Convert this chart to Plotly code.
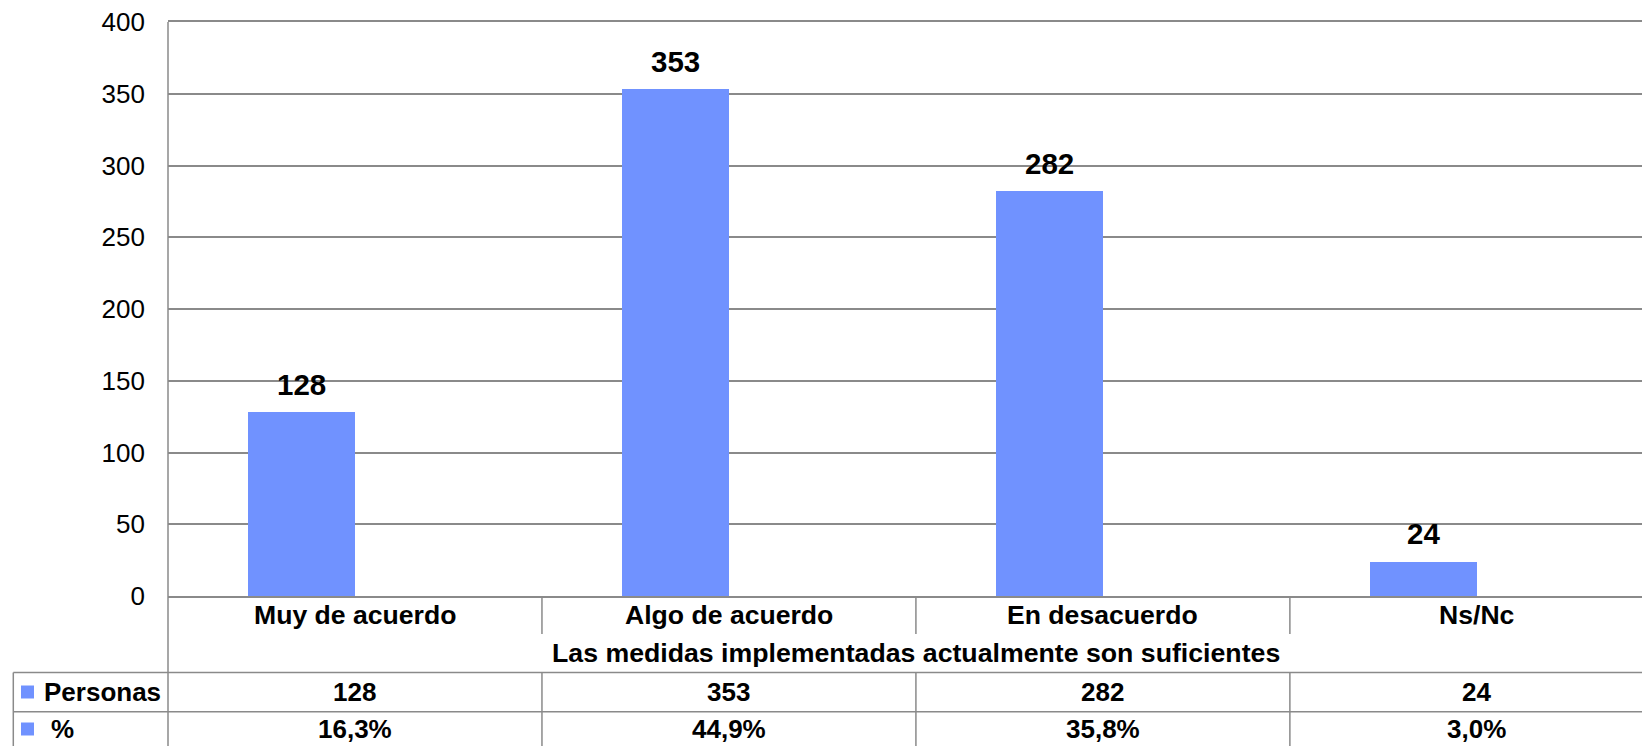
import plotly.graph_objects as go

categorias = ["Muy de acuerdo", "Algo de acuerdo", "En desacuerdo", "Ns/Nc"]
personas = [128, 353, 282, 24]
porcentajes = ["16,3%", "44,9%", "35,8%", "3,0%"]
titulo_tabla = "Las medidas implementadas actualmente son suficientes"
filas = ["Personas", "%"]
y_ticks = [0, 50, 100, 150, 200, 250, 300, 350, 400]

AZUL = "#7092FF"
GRIS = "#8a8a8a"
FUENTE = "Liberation Sans, Arial, sans-serif"
ANCHO_BARRA = 0.287

# the page body adds an 8px margin, so the figure is 8px smaller and
# everything below is measured in page pixels: plot area x 168..1650, y 22..596
def px_x(px):
    return (px - 168) / 1482


def px_y(py):
    return (596 - py) / 574


fig = go.Figure()

fig.add_trace(
    go.Bar(
        x=categorias,
        y=personas,
        width=ANCHO_BARRA,
        offset=-ANCHO_BARRA,
        marker_color=AZUL,
        marker_line_width=0,
        showlegend=False,
    )
)

anotaciones = []

# data labels above bars
for i, v in enumerate(personas):
    anotaciones.append(dict(
        x=i - ANCHO_BARRA / 2, y=v, xref="x", yref="y",
        text=f"<b>{v}</b>", showarrow=False,
        yanchor="middle", yshift=28,
        font=dict(size=29.5, color="black", family=FUENTE),
    ))

# category row
for c in categorias:
    anotaciones.append(dict(
        x=c, y=px_y(614.7), xref="x", yref="paper",
        text=f"<b>{c}</b>", showarrow=False, yanchor="middle",
        font=dict(size=26.6, color="black", family=FUENTE),
    ))

anotaciones.append(dict(
    x=1.5, y=px_y(652.8), xref="x", yref="paper",
    text=f"<b>{titulo_tabla}</b>", showarrow=False, yanchor="middle",
    font=dict(size=26.7, color="black", family=FUENTE),
))

# data table rows
centros_filas = [692, 729]
valores_filas = [[str(v) for v in personas], porcentajes]
inicio_etiqueta = [41.7, 49]
for r, nombre in enumerate(filas):
    anotaciones.append(dict(
        x=px_x(inicio_etiqueta[r]), y=px_y(centros_filas[r]), xref="paper", yref="paper",
        text=f"<b>{nombre}</b>", showarrow=False, xanchor="left", yanchor="middle",
        font=dict(size=26, color="black", family=FUENTE),
    ))
    for i, val in enumerate(valores_filas[r]):
        anotaciones.append(dict(
            x=i, y=px_y(centros_filas[r]), xref="x", yref="paper",
            text=f"<b>{val}</b>", showarrow=False, yanchor="middle",
            font=dict(size=26, color="black", family=FUENTE),
        ))

linea = dict(color=GRIS, width=1.5)
formas = []

# left border of the chart, down through the table
formas.append(dict(type="line", xref="paper", yref="paper",
                   x0=0, x1=0, y0=px_y(750), y1=1, line=linea))

# separators in category row and table rows
for i in range(len(categorias) - 1):
    formas.append(dict(type="line", xref="x", yref="paper",
                       x0=i + 0.5, x1=i + 0.5, y0=px_y(596), y1=px_y(634), line=linea))
    formas.append(dict(type="line", xref="x", yref="paper",
                       x0=i + 0.5, x1=i + 0.5, y0=px_y(672.5), y1=px_y(750), line=linea))

# horizontal table lines
for py in [672.5, 711.7]:
    formas.append(dict(type="line", xref="paper", yref="paper",
                       x0=px_x(13.3), x1=1, y0=px_y(py), y1=px_y(py), line=linea))

# legend column border
formas.append(dict(type="line", xref="paper", yref="paper",
                   x0=px_x(13.3), x1=px_x(13.3), y0=px_y(672.5), y1=px_y(750), line=linea))

# legend keys
for c in centros_filas:
    formas.append(dict(type="rect", xref="paper", yref="paper",
                       x0=px_x(21), x1=px_x(34), y0=px_y(c - 6.5), y1=px_y(c + 6.5),
                       fillcolor=AZUL, line=dict(width=0)))

fig.update_layout(
    width=1642,
    height=738,
    margin=dict(l=160, r=0, t=14, b=150),
    paper_bgcolor="white",
    plot_bgcolor="white",
    font=dict(family=FUENTE, color="black"),
    annotations=anotaciones,
    shapes=formas,
    bargap=0,
)

fig.update_xaxes(
    type="category",
    range=[-0.5, 3.463],
    showticklabels=False,
    showgrid=False,
    showline=True,
    mirror=True,
    linecolor=GRIS,
    linewidth=1.5,
    ticks="",
    fixedrange=True,
)

fig.update_yaxes(
    range=[0, 400],
    tickvals=y_ticks,
    showgrid=True,
    gridcolor=GRIS,
    gridwidth=1.5,
    zeroline=False,
    showline=False,
    ticks="",
    ticklabelstandoff=22,
    ticklabeloverflow="allow",
    tickfont=dict(size=26, color="black", family=FUENTE),
    fixedrange=True,
)

fig.write_html("out.html")
